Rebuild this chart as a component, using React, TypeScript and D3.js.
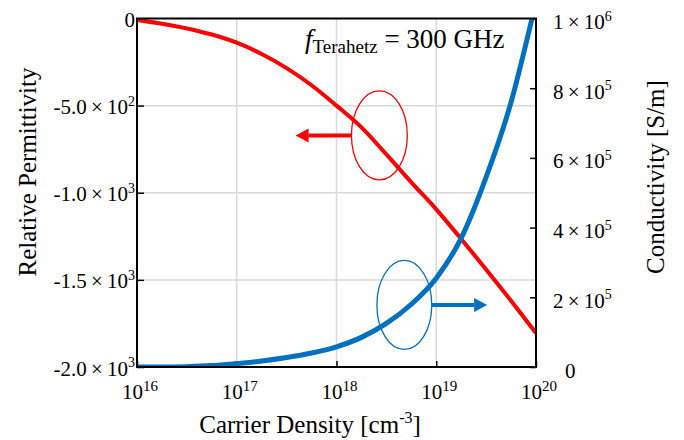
import React, { useEffect, useRef } from 'react';
import * as d3 from 'd3';

// carrier density, log10 of cm^-3
const permLogN = [16, 16.25, 16.5, 16.75, 17, 17.25, 17.5, 17.75, 18, 18.25, 18.5, 18.75, 19, 19.25, 19.5, 19.75, 20];
const permittivity = [-8, -30, -57, -92, -139, -204, -285, -383, -500, -625, -780, -940, -1095, -1265, -1440, -1620, -1805];

const condLogN = [16, 16.25, 16.5, 16.75, 17, 17.25, 17.5, 17.75, 18, 18.25, 18.5, 18.75, 19, 19.25, 19.5, 19.75, 19.96];
const conductivity = [0, 0, 1000, 4000, 10000, 17000, 27000, 40000, 58000, 85000, 125000, 180000, 255000, 370000, 545000, 760000, 1000000];

const xTickExp = [16, 17, 18, 19, 20];

const leftTicks = [0, -500, -1000, -1500, -2000];
const leftMantissa = ['0', '-5.0', '-1.0', '-1.5', '-2.0'];
const leftExp = ['', '2', '3', '3', '3'];

const rightTicks = [0, 200000, 400000, 600000, 800000, 1000000];
const rightMantissa = ['0', '2', '4', '6', '8', '1'];
const rightExp = ['', '5', '5', '5', '5', '6'];

// annotation ellipses / arrows, in data units (log N, value)
const permNote = { logN: 18.43, value: -671, rx: 0.28, tipLogN: 17.59 };
const condNote = { logN: 18.68, value: 178000, rx: 0.275, tipLogN: 19.51 };

const RED = '#ff0000';
const BLUE = '#0070c0';
const FONT = '"Liberation Serif", "Times New Roman", serif';

function App() {
  const svgRef = useRef(null);

  useEffect(() => {
    document.body.style.margin = '0';
    const W = 684;
    const H = 440;
    const left = 137;
    const right = 536;
    const top = 18.5;
    const bottom = 367;

    const x = d3.scaleLog().domain([1e16, 1e20]).range([left, right]);
    const yL = d3.scaleLinear().domain([-2000, 0]).range([bottom, top]);
    const yR = d3.scaleLinear().domain([0, 1e6]).range([bottom, top]);

    const svg = d3.select(svgRef.current)
      .attr('width', W)
      .attr('height', H)
      .style('font-family', FONT);
    svg.selectAll('*').remove();

    svg.append('rect').attr('width', W).attr('height', H).attr('fill', '#fff');

    svg.append('clipPath').attr('id', 'plot-clip')
      .append('rect')
      .attr('x', left).attr('y', top)
      .attr('width', right - left).attr('height', bottom - top);

    // grid
    const grid = svg.append('g').attr('stroke', '#d9d9d9').attr('stroke-width', 1.5);
    xTickExp.slice(1, -1).forEach((e) => {
      grid.append('line')
        .attr('x1', x(10 ** e)).attr('x2', x(10 ** e))
        .attr('y1', top).attr('y2', bottom);
    });
    leftTicks.slice(1, -1).forEach((v) => {
      grid.append('line')
        .attr('x1', left).attr('x2', right)
        .attr('y1', yL(v)).attr('y2', yL(v));
    });

    // inward ticks
    svg.append('g')
      .attr('transform', `translate(0,${bottom})`)
      .call(d3.axisBottom(x).tickValues(xTickExp.map((e) => 10 ** e)).tickSize(-6).tickFormat(() => ''))
      .call((g) => g.select('.domain').remove())
      .selectAll('line').attr('stroke', '#000').attr('stroke-width', 1.5);
    svg.append('g')
      .attr('transform', `translate(${left},0)`)
      .call(d3.axisLeft(yL).tickValues(leftTicks).tickSize(-7).tickFormat(() => ''))
      .call((g) => g.select('.domain').remove())
      .selectAll('line').attr('stroke', '#000').attr('stroke-width', 1.5);
    svg.append('g')
      .attr('transform', `translate(${right},0)`)
      .call(d3.axisRight(yR).tickValues(rightTicks).tickSize(-6).tickFormat(() => ''))
      .call((g) => g.select('.domain').remove())
      .selectAll('line').attr('stroke', '#000').attr('stroke-width', 1.5);

    // curves
    const plot = svg.append('g').attr('clip-path', 'url(#plot-clip)');
    const permLine = d3.line()
      .x((d) => x(10 ** d[0]))
      .y((d) => yL(d[1]))
      .curve(d3.curveMonotoneX);
    plot.append('path')
      .datum(permLogN.map((n, i) => [n, permittivity[i]]))
      .attr('d', permLine)
      .attr('fill', 'none')
      .attr('stroke', RED)
      .attr('stroke-width', 4);

    const condLine = d3.line()
      .x((d) => x(10 ** d[0]))
      .y((d) => yR(d[1]))
      .curve(d3.curveMonotoneX);
    plot.append('path')
      .datum(condLogN.map((n, i) => [n, conductivity[i]]))
      .attr('d', condLine)
      .attr('fill', 'none')
      .attr('stroke', BLUE)
      .attr('stroke-width', 5);

    // frame
    svg.append('rect')
      .attr('x', left).attr('y', top)
      .attr('width', right - left).attr('height', bottom - top)
      .attr('fill', 'none')
      .attr('stroke', '#000')
      .attr('stroke-width', 2);

    // ellipse + arrow annotations
    const note = (n, yScale, color) => {
      const cx = x(10 ** n.logN);
      const cy = yScale(n.value);
      const rx = x(10 ** (n.logN + n.rx)) - cx;
      const ry = 44.5;
      svg.append('ellipse')
        .attr('cx', cx).attr('cy', cy)
        .attr('rx', rx).attr('ry', ry)
        .attr('fill', 'none')
        .attr('stroke', color)
        .attr('stroke-width', 1.3);
      const tip = x(10 ** n.tipLogN);
      const dir = tip < cx ? -1 : 1;
      const start = cx + dir * rx;
      const head = 13;
      svg.append('line')
        .attr('x1', start).attr('x2', tip - dir * head)
        .attr('y1', cy).attr('y2', cy)
        .attr('stroke', color)
        .attr('stroke-width', 4);
      svg.append('path')
        .attr('d', `M${tip},${cy}L${tip - dir * head},${cy - 7}L${tip - dir * head},${cy + 7}Z`)
        .attr('fill', color);
    };
    note(permNote, yL, RED);
    note(condNote, yR, BLUE);

    // tick labels
    const supLabel = (g, mant, exp, px, py, anchor, size, supSize) => {
      const t = g.append('text')
        .attr('x', px).attr('y', py)
        .attr('text-anchor', anchor)
        .attr('font-size', size)
        .attr('fill', '#000');
      t.append('tspan').text(exp ? `${mant}\u2009\u00d7\u200910` : mant);
      if (exp) {
        t.append('tspan').attr('dy', -size * 0.4).attr('font-size', supSize).text(exp);
      }
      return t;
    };

    const labels = svg.append('g');
    leftTicks.forEach((v, i) => {
      supLabel(labels, leftMantissa[i], leftExp[i], left - 2, yL(v) + 8.5, 'end', 21, 14);
    });
    rightTicks.forEach((v, i) => {
      supLabel(labels, rightMantissa[i], rightExp[i], rightExp[i] ? 553 : 565, yR(v) + 10.5, 'start', 21, 14);
    });
    xTickExp.forEach((e) => {
      const t = labels.append('text')
        .attr('x', x(10 ** e) + 3).attr('y', 399)
        .attr('text-anchor', 'middle')
        .attr('font-size', 21);
      t.append('tspan').text('10');
      t.append('tspan').attr('dy', -8).attr('font-size', 15).text(String(e));
    });

    // axis titles
    const xt = svg.append('text')
      .attr('x', 310).attr('y', 433)
      .attr('text-anchor', 'middle')
      .attr('font-size', 25);
    xt.append('tspan').text('Carrier Density [cm');
    xt.append('tspan').attr('dy', -10).attr('font-size', 16).text('-3');
    xt.append('tspan').attr('dy', 10).text(']');

    svg.append('text')
      .attr('transform', 'translate(36,172) rotate(-90)')
      .attr('text-anchor', 'middle')
      .attr('font-size', 25)
      .text('Relative Permittivity');

    svg.append('text')
      .attr('transform', 'translate(664,177) rotate(-90)')
      .attr('text-anchor', 'middle')
      .attr('font-size', 25)
      .text('Conductivity [S/m]');

    // frequency note
    const ft = svg.append('text')
      .attr('x', 305).attr('y', 48)
      .attr('font-size', 27);
    ft.append('tspan').attr('font-style', 'italic').text('f');
    ft.append('tspan').attr('dy', 5).attr('font-size', 19).text('Terahetz');
    ft.append('tspan').attr('dy', -5).text(' = 300 GHz');
  }, []);

  return (
    <div className="chart">
      <svg ref={svgRef} style={{ display: 'block' }} />
    </div>
  );
}

export default App;
